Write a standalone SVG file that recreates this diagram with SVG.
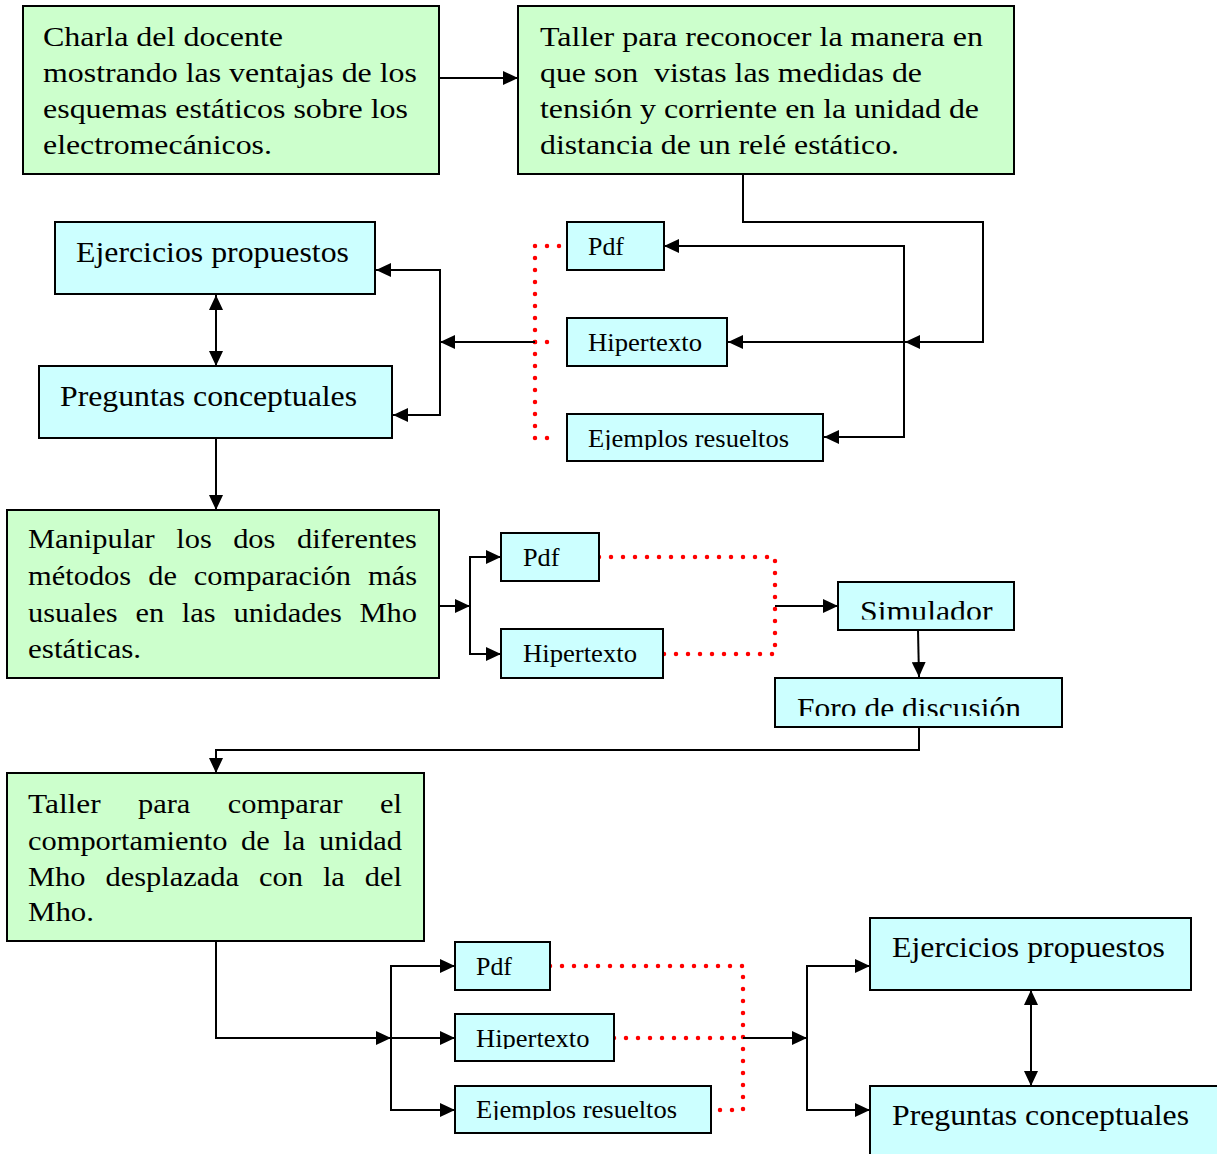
<svg xmlns="http://www.w3.org/2000/svg" width="1217" height="1154" viewBox="0 0 1217 1154">
<style>
.g{fill:#CCFFCC;stroke:#000;stroke-width:2}
.c{fill:#CCFFFF;stroke:#000;stroke-width:2}
text{font-family:"Liberation Serif","Times New Roman",serif;fill:#000}
.body{font-size:28px}
.mid{font-size:29px}
.sm{font-size:25px}
.ln{fill:none;stroke:#000;stroke-width:2}
.ar{marker-end:url(#ah)}
.dbl{marker-start:url(#ah2);marker-end:url(#ah)}
.dot{fill:none;stroke:#FF0000;stroke-width:4.5;stroke-linecap:round;stroke-dasharray:0 12}
</style>
<defs>
<marker id="ah" markerUnits="userSpaceOnUse" markerWidth="15" markerHeight="14" refX="15" refY="7" orient="auto"><path d="M0,0 L15,7 L0,14 z" fill="#000"/></marker>
<marker id="ah2" markerUnits="userSpaceOnUse" markerWidth="15" markerHeight="14" refX="15" refY="7" orient="auto-start-reverse"><path d="M0,0 L15,7 L0,14 z" fill="#000"/></marker>
<clipPath id="cEj1"><rect x="560" y="410" width="270" height="40"/></clipPath>
<clipPath id="cSim"><rect x="830" y="578" width="190" height="41.5"/></clipPath>
<clipPath id="cForo"><rect x="770" y="674" width="300" height="42"/></clipPath>
<clipPath id="cHip3"><rect x="450" y="1010" width="170" height="39"/></clipPath>
<clipPath id="cEj3"><rect x="450" y="1082" width="270" height="38"/></clipPath>
</defs>

<g id="connectors">
<path class="ln ar" d="M439,78 H518"/>
<path class="ln ar" d="M743,174 V222 H983 V342 H905"/>
<path class="ln ar" d="M904,342 H728"/>
<path class="ln ar" d="M904,342 V246 H664"/>
<path class="ln ar" d="M904,342 V437 H824"/>
<path class="dot" d="M559,246 H535 V438 H559"/>
<path class="dot" d="M535,342 H559"/>
<path class="ln ar" d="M535,342 H440"/>
<path class="ln ar" d="M440,342 V270 H376"/>
<path class="ln ar" d="M440,342 V415 H393"/>
<path class="ln dbl" d="M216,295 V366"/>
<path class="ln ar" d="M216,438 V510"/>
<path class="ln ar" d="M439,606 H470"/>
<path class="ln ar" d="M470,606 V557 H501"/>
<path class="ln ar" d="M470,606 V654 H501"/>
<path class="dot" d="M599,557 H775 V654 H663"/>
<path class="ln ar" d="M775,606 H838"/>
<path class="ln ar" d="M918,630 L919,677"/>
<path class="ln ar" d="M919,727 V750 H216 V773"/>
<path class="ln ar" d="M216,941 V1038 H391"/>
<path class="ln ar" d="M391,1038 V966 H455"/>
<path class="ln ar" d="M391,1038 H455"/>
<path class="ln ar" d="M391,1038 V1110 H455"/>
<path class="dot" d="M550,966 H743 V1110 H710"/>
<path class="dot" d="M614,1038 H743"/>
<path class="ln ar" d="M743,1038 H807"/>
<path class="ln ar" d="M807,1038 V966 H870"/>
<path class="ln ar" d="M807,1038 V1110 H870"/>
<path class="ln dbl" d="M1031,990 V1086"/>
</g>

<g id="charla">
<rect class="g" x="23" y="6" width="416" height="168"/>
<text class="body" transform="translate(43 0) scale(1.143 1)"><tspan x="0" y="46.5" textLength="210" lengthAdjust="spacingAndGlyphs">Charla del docente</tspan><tspan x="0" y="82.5" textLength="327.2" lengthAdjust="spacingAndGlyphs">mostrando las ventajas de los</tspan><tspan x="0" y="118" textLength="319.3" lengthAdjust="spacingAndGlyphs">esquemas estáticos sobre los</tspan><tspan x="0" y="154" textLength="200.3" lengthAdjust="spacingAndGlyphs">electromecánicos.</tspan></text>
</g>

<g id="taller1">
<rect class="g" x="518" y="6" width="496" height="168"/>
<text class="body" style="white-space:pre" transform="translate(540 0) scale(1.143 1)"><tspan x="0" y="46.5" textLength="387.6" lengthAdjust="spacingAndGlyphs">Taller para reconocer la manera en</tspan><tspan x="0" y="82.5" textLength="334.2" lengthAdjust="spacingAndGlyphs">que son  vistas las medidas de</tspan><tspan x="0" y="118" textLength="384.1" lengthAdjust="spacingAndGlyphs">tensión y corriente en la unidad de</tspan><tspan x="0" y="154" textLength="314.1" lengthAdjust="spacingAndGlyphs">distancia de un relé estático.</tspan></text>
</g>

<g id="ejercicios1">
<rect class="c" x="55" y="222" width="320" height="72"/>
<text class="mid" x="76" y="261.5" textLength="273" lengthAdjust="spacingAndGlyphs">Ejercicios propuestos</text>
</g>

<g id="preguntas1">
<rect class="c" x="39" y="366" width="353" height="72"/>
<text class="mid" x="60" y="405.5" textLength="297" lengthAdjust="spacingAndGlyphs">Preguntas conceptuales</text>
</g>

<g id="pdf1">
<rect class="c" x="567" y="222" width="97" height="48"/>
<text class="sm" x="588" y="255" textLength="36" lengthAdjust="spacingAndGlyphs">Pdf</text>
</g>

<g id="hipertexto1">
<rect class="c" x="567" y="318" width="160" height="48"/>
<text class="sm" x="588" y="351" textLength="114" lengthAdjust="spacingAndGlyphs">Hipertexto</text>
</g>

<g id="ejemplos1">
<rect class="c" x="567" y="414" width="256" height="47"/>
<g clip-path="url(#cEj1)"><text class="sm" x="588" y="447" textLength="201" lengthAdjust="spacingAndGlyphs">Ejemplos resueltos</text></g>
</g>

<g id="manipular">
<rect class="g" x="7" y="510" width="432" height="168"/>
<text class="body" transform="translate(28 0) scale(1.143 1)"><tspan x="0" y="548" textLength="110.9" lengthAdjust="spacingAndGlyphs">Manipular</tspan> <tspan x="129.7" y="548" textLength="31.1" lengthAdjust="spacingAndGlyphs">los</tspan> <tspan x="179.5" y="548" textLength="37" lengthAdjust="spacingAndGlyphs">dos</tspan> <tspan x="235.3" y="548" textLength="105" lengthAdjust="spacingAndGlyphs">diferentes</tspan><tspan x="0" y="585" textLength="90.3" lengthAdjust="spacingAndGlyphs">métodos</tspan> <tspan x="105.2" y="585" textLength="25.1" lengthAdjust="spacingAndGlyphs">de</tspan> <tspan x="145.1" y="585" textLength="137.5" lengthAdjust="spacingAndGlyphs">comparación</tspan> <tspan x="297.5" y="585" textLength="42.9" lengthAdjust="spacingAndGlyphs">más</tspan><tspan x="0" y="622" textLength="78.4" lengthAdjust="spacingAndGlyphs">usuales</tspan> <tspan x="94" y="622" textLength="25.1" lengthAdjust="spacingAndGlyphs">en</tspan> <tspan x="134.6" y="622" textLength="29.6" lengthAdjust="spacingAndGlyphs">las</tspan> <tspan x="179.8" y="622" textLength="94.7" lengthAdjust="spacingAndGlyphs">unidades</tspan> <tspan x="290" y="622" textLength="50.3" lengthAdjust="spacingAndGlyphs">Mho</tspan><tspan x="0" y="658.5" textLength="98.9" lengthAdjust="spacingAndGlyphs">estáticas.</tspan></text>
</g>

<g id="pdf2">
<rect class="c" x="501" y="533" width="98" height="48"/>
<text class="sm" x="523" y="566" textLength="36.5" lengthAdjust="spacingAndGlyphs">Pdf</text>
</g>

<g id="hipertexto2">
<rect class="c" x="501" y="629" width="162" height="49"/>
<text class="sm" x="523" y="662" textLength="114" lengthAdjust="spacingAndGlyphs">Hipertexto</text>
</g>

<g id="simulador">
<rect class="c" x="838" y="582" width="176" height="48"/>
<g clip-path="url(#cSim)"><text class="mid" x="860" y="621" textLength="132.5" lengthAdjust="spacingAndGlyphs">Simulador</text></g>
</g>

<g id="foro">
<rect class="c" x="775" y="678" width="287" height="49"/>
<g clip-path="url(#cForo)"><text class="mid" x="797" y="717.5" textLength="224" lengthAdjust="spacingAndGlyphs">Foro de discusión</text></g>
</g>

<g id="taller2">
<rect class="g" x="7" y="773" width="417" height="168"/>
<text class="body" transform="translate(28 0) scale(1.143 1)"><tspan x="0" y="813" textLength="63.6" lengthAdjust="spacingAndGlyphs">Taller</tspan> <tspan x="96.2" y="813" textLength="45.8" lengthAdjust="spacingAndGlyphs">para</tspan> <tspan x="174.7" y="813" textLength="100.5" lengthAdjust="spacingAndGlyphs">comparar</tspan> <tspan x="308" y="813" textLength="19.2" lengthAdjust="spacingAndGlyphs">el</tspan><tspan x="0" y="850" textLength="174.5" lengthAdjust="spacingAndGlyphs">comportamiento</tspan> <tspan x="186.4" y="850" textLength="25.1" lengthAdjust="spacingAndGlyphs">de</tspan> <tspan x="223.4" y="850" textLength="19.2" lengthAdjust="spacingAndGlyphs">la</tspan> <tspan x="254.6" y="850" textLength="72.5" lengthAdjust="spacingAndGlyphs">unidad</tspan><tspan x="0" y="886" textLength="50.3" lengthAdjust="spacingAndGlyphs">Mho</tspan> <tspan x="67.8" y="886" textLength="116.8" lengthAdjust="spacingAndGlyphs">desplazada</tspan> <tspan x="202" y="886" textLength="38.5" lengthAdjust="spacingAndGlyphs">con</tspan> <tspan x="258" y="886" textLength="19.2" lengthAdjust="spacingAndGlyphs">la</tspan> <tspan x="294.7" y="886" textLength="32.5" lengthAdjust="spacingAndGlyphs">del</tspan><tspan x="0" y="921.5" textLength="57.7" lengthAdjust="spacingAndGlyphs">Mho.</tspan></text>
</g>

<g id="pdf3">
<rect class="c" x="455" y="942" width="95" height="48"/>
<text class="sm" x="476" y="975" textLength="36" lengthAdjust="spacingAndGlyphs">Pdf</text>
</g>

<g id="hipertexto3">
<rect class="c" x="455" y="1014" width="159" height="47"/>
<g clip-path="url(#cHip3)"><text class="sm" x="476" y="1046.5" textLength="113.5" lengthAdjust="spacingAndGlyphs">Hipertexto</text></g>
</g>

<g id="ejemplos3">
<rect class="c" x="455" y="1086" width="256" height="47"/>
<g clip-path="url(#cEj3)"><text class="sm" x="476" y="1118" textLength="201" lengthAdjust="spacingAndGlyphs">Ejemplos resueltos</text></g>
</g>

<g id="ejercicios3">
<rect class="c" x="870" y="918" width="321" height="72"/>
<text class="mid" x="892" y="957" textLength="273" lengthAdjust="spacingAndGlyphs">Ejercicios propuestos</text>
</g>

<g id="preguntas3">
<rect class="c" x="870" y="1086" width="360" height="84"/>
<text class="mid" x="892" y="1125" textLength="297" lengthAdjust="spacingAndGlyphs">Preguntas conceptuales</text>
</g>
</svg>
